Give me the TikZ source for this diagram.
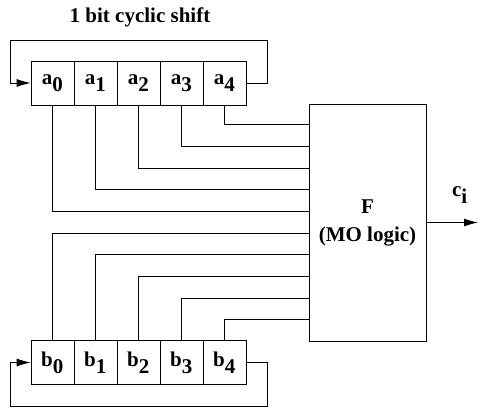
\documentclass[tikz,border=0pt]{standalone}
\usepackage{fontspec}
\setmainfont{Liberation Serif}
\usetikzlibrary{arrows.meta,calc}
\begin{document}
\begin{tikzpicture}[x=1pt,y=-1pt,
  cell/.style={draw, line width=0.8pt, minimum width=43pt, minimum height=44pt, inner sep=0pt, font=\fontsize{21}{21}\selectfont\bfseries},
  wire/.style={line width=0.8pt},
  arr/.style={-{Latex[length=14pt,width=8pt]}},
  lbl/.style={font=\fontsize{21}{28}\selectfont\bfseries, align=center}]
\useasboundingbox (0,0) rectangle (479,408);
\node[lbl] (title) at (140,17) {1 bit cyclic shift};
\foreach \i in {0,...,4} {
  \node[cell] (a\i) at ({52.5+43*\i},83) {a$_{\textbf{\i}}$};
  \node[cell] (b\i) at ({52.5+43*\i},362.5) {b$_{\textbf{\i}}$};
}
\node[draw, line width=0.8pt, minimum width=117pt, minimum height=237pt, lbl] (F) at (367.5,222.5) {F\\(MO logic)};
\foreach \i in {0,...,4} {
  \draw[wire] (a\i.south) |- ($(F.north west)+(0,{21+(4-\i)*21.67})$);
  \draw[wire] (b\i.north) |- ($(F.north west)+(0,{21+(5+\i)*21.67})$);
}
\draw[wire,arr] (a4.east) -- ++(21,0) |- (10,40) |- (a0.west);
\draw[wire,arr] (b4.east) -- ++(21,0) |- (10,406) |- (b0.west);
\coordinate (out) at (478,0);
\draw[wire,arr] (F.east) -- (F.east -| out);
\node[lbl] (ci) at (460,195) {c$_{\textbf{i}}$};
\end{tikzpicture}
\end{document}
